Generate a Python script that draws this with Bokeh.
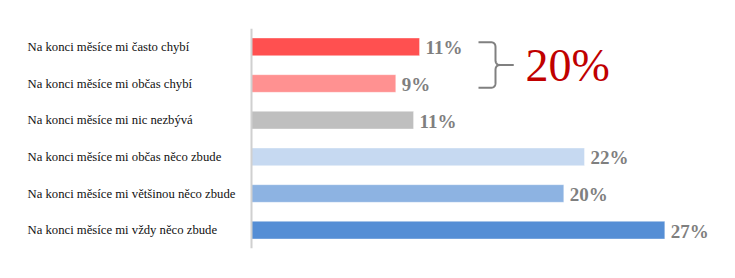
import numpy as np
from bokeh.plotting import figure
from bokeh.models import Range1d, Span, ColumnDataSource
from bokeh.core.properties import value
from bokeh.embed import file_html
from bokeh.resources import INLINE

# ---- data ----
categories = [
    "Na konci měsíce mi často chybí",
    "Na konci měsíce mi občas chybí",
    "Na konci měsíce mi nic nezbývá",
    "Na konci měsíce mi občas něco zbude",
    "Na konci měsíce mi většinou něco zbude",
    "Na konci měsíce mi vždy něco zbude",
]
shares = [10.96, 9.41, 10.57, 21.72, 20.37, 26.96]
bar_colors = ["#ff5050", "#ff9191", "#bfbfbf", "#c6d9f1", "#8db3e2", "#558ed5"]
bracket_rows = [0, 1]
bracket_label = "%d%%" % round(sum(shares[i] for i in bracket_rows))

# ---- layout constants ----
W, H = 735, 278
TOP, BOTTOM = 28, 30
AXIS_PX = 251                     # pixel position of 0 %
PX_PER_PCT = 15.33
ROW_PX = (H - TOP - BOTTOM) / len(categories)

def dx(px):   # pixel x -> data x
    return (px - AXIS_PX) / PX_PER_PCT

def dy(px):   # pixel y -> data y (row index)
    return (px - TOP) / ROW_PX - 0.5

p = figure(width=W, height=H, output_backend="svg", toolbar_location=None,
           x_range=Range1d(dx(0), dx(W)),
           y_range=Range1d(len(categories) - 0.5, -0.5),
           min_border_left=0, min_border_right=0,
           min_border_top=TOP, min_border_bottom=BOTTOM)
p.axis.visible = False
p.grid.visible = False
p.outline_line_color = None
p.background_fill_color = "white"
p.border_fill_color = "white"

idx = list(range(len(categories)))
src = ColumnDataSource(dict(
    y=idx, v=shares, c=bar_colors, cat=categories,
    lab=["%d%%" % round(s) for s in shares],
    lx=[dx(27)] * len(categories),
))

p.hbar(y="y", left=0, right="v", height=0.48, fill_color="c",
       line_color="white", line_alpha=0.35, line_width=1, source=src)

p.add_layout(Span(location=0, dimension="height", line_color="#d0d0d0", line_width=2))

p.text(x="lx", y="y", text="cat", source=src, text_align="left", text_baseline="middle",
       text_font=value("Liberation Serif"), text_font_size="12.7px", text_color="#111111")

p.text(x="v", y="y", text="lab", source=src, x_offset=6, y_offset=1,
       text_align="left", text_baseline="middle",
       text_font=value("Liberation Serif"), text_font_style="bold",
       text_font_size="19px", text_color="#7f7f7f")

# ---- brace spanning the bracket rows ----
def quad(p0, c, p1, n=12):
    t = np.linspace(0, 1, n)[:, None]
    p0, c, p1 = map(np.array, (p0, c, p1))
    return (1 - t) ** 2 * p0 + 2 * (1 - t) * t * c + t ** 2 * p1

x0, xv, xt = 478, 495, 513
yt, yb = 41.7, 87.3
ym = (yt + yb) / 2
r = 5
pts = np.vstack([
    [[x0, yt]],
    quad((xv - r, yt), (xv, yt), (xv, yt + r)),
    quad((xv, ym - r), (xv, ym), (xv + r, ym)),
    [[xt, ym]],
])
pts2 = np.vstack([
    [[x0, yb]],
    quad((xv - r, yb), (xv, yb), (xv, yb - r)),
    quad((xv, ym + r), (xv, ym), (xv + r, ym)),
    [[xt, ym]],
])
for pp in (pts, pts2):
    p.line([dx(a) for a in pp[:, 0]], [dy(b) for b in pp[:, 1]],
           line_color="#808080", line_width=2)

p.text(x=[dx(525)], y=[dy(ym)], text=[bracket_label], text_align="left",
       text_baseline="middle", text_font=value("Liberation Serif"),
       text_font_size="46px", text_color="#c00000")

open("out.html", "w").write(file_html(p, INLINE))
